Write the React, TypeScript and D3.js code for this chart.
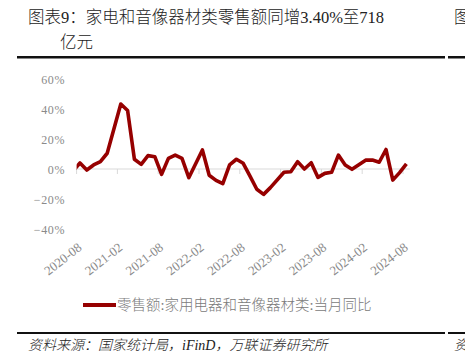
import React from "react";
import { scaleLinear, line } from "d3";

// monthly categories, 2020-07 .. 2024-08 (the first one sits just outside the plot)
const months = [
  "2020-07", "2020-08", "2020-09", "2020-10", "2020-11", "2020-12",
  "2021-01", "2021-02", "2021-03", "2021-04", "2021-05", "2021-06",
  "2021-07", "2021-08", "2021-09", "2021-10", "2021-11", "2021-12",
  "2022-01", "2022-02", "2022-03", "2022-04", "2022-05", "2022-06",
  "2022-07", "2022-08", "2022-09", "2022-10", "2022-11", "2022-12",
  "2023-01", "2023-02", "2023-03", "2023-04", "2023-05", "2023-06",
  "2023-07", "2023-08", "2023-09", "2023-10", "2023-11", "2023-12",
  "2024-01", "2024-02", "2024-03", "2024-04", "2024-05", "2024-06",
  "2024-07", "2024-08",
];

// 零售额:家用电器和音像器材类:当月同比 (%), January has no print
const yoy: (number | null)[] = [
  -1.2, 4.0, -0.7, 2.7, 4.9, 10.5,
  null, 43.3, 39.0, 6.5, 3.1, 8.9,
  8.2, -3.6, 7.1, 9.3, 7.1, -5.8,
  null, 12.7, -4.2, -7.6, -9.8, 2.7,
  6.5, 3.8, -4.7, -13.5, -16.9, -12.4,
  null, -2.2, -1.8, 4.9, 0.0, 4.2,
  -5.6, -2.9, -2.2, 9.3, 2.7, -0.2,
  null, 5.9, 6.0, 4.5, 13.0, -7.4,
  -2.4, 3.4,
];

const xTickLabels = [
  "2020-08", "2021-02", "2021-08", "2022-02", "2022-08",
  "2023-02", "2023-08", "2024-02", "2024-08",
];
const yTicks = [60, 40, 20, 0, -20, -40];

const seriesName = "零售额:家用电器和音像器材类:当月同比";
const titleLine1 = "图表9：家电和音像器材类零售额同增3.40%至718";
const titleLine2 = "亿元";
const source = "资料来源：国家统计局，iFinD，万联证券研究所";

const W = 465;
const H = 352;
const serif = "'Liberation Serif', 'DejaVu Serif', 'Noto Sans CJK SC', serif";
const red = "#960000";

export default function App() {
  const x = scaleLinear().domain([0, months.length - 1]).range([73.2, 406.4]);
  const y = scaleLinear().domain([-40, 60]).range([229, 79]);

  const left = x(0.5);
  const right = x(months.length - 0.5);

  const pts = months
    .map((m, i) => ({ i, v: yoy[i] }))
    .filter((d) => d.v !== null) as { i: number; v: number }[];

  const path = line<{ i: number; v: number }>()
    .x((d) => x(d.i))
    .y((d) => y(d.v))(pts);

  const tickIdx = xTickLabels.map((lab) => months.indexOf(lab) - 0.5);

  return (
    <svg
      width={W}
      height={H}
      style={{ position: "absolute", left: 0, top: 0, background: "#fff" }}
      fontFamily={serif}
    >
      <defs>
        <clipPath id="plot">
          <rect x={left} y={60} width={right - left} height={200} />
        </clipPath>
      </defs>

      {/* title */}
      <text x={28} y={23} fontSize={16.5} fill="#222" fontWeight={300}>
        {titleLine1}
      </text>
      <text x={60} y={48} fontSize={16.5} fill="#222" fontWeight={300}>
        {titleLine2}
      </text>
      <text x={454} y={23} fontSize={16.5} fill="#222" fontWeight={300}>
        图
      </text>
      <rect x={17} y={56} width={428} height={2.5} fill="#111" />
      <rect x={448} y={56} width={17} height={2.5} fill="#111" />

      {/* y axis labels */}
      {yTicks.map((t) => (
        <text
          key={t}
          x={65}
          y={y(t) + 4.5}
          fontSize={12}
          fill="#8a8a8a"
          textAnchor="end"
          letterSpacing={0.6}
        >
          {t < 0 ? `−${-t}%` : `${t}%`}
        </text>
      ))}

      {/* zero line + ticks */}
      <line x1={left} x2={right} y1={y(0)} y2={y(0)} stroke="#d9d9d9" strokeWidth={1.2} />
      {tickIdx.map((ti, k) => (
        <line
          key={k}
          x1={x(ti)}
          x2={x(ti)}
          y1={y(0)}
          y2={y(0) + 5}
          stroke="#d9d9d9"
          strokeWidth={1}
        />
      ))}

      {/* x labels */}
      {tickIdx.map((ti, k) => (
        <text
          key={k}
          transform={`translate(${x(ti) + 6},249) rotate(-38)`}
          fontSize={13}
          fill="#8a8a8a"
          textAnchor="end"
        >
          {xTickLabels[k]}
        </text>
      ))}

      {/* series */}
      <path
        d={path ?? ""}
        fill="none"
        stroke={red}
        strokeWidth={3.6}
        strokeLinejoin="round"
        clipPath="url(#plot)"
      />

      {/* legend */}
      <line x1={83} x2={116} y1={305} y2={305} stroke={red} strokeWidth={4} />
      <text x={117} y={310} fontSize={14.5} fill="#7a7a7a" fontWeight={300}>
        {seriesName}
      </text>

      {/* source */}
      <rect x={17} y={332} width={428} height={2} fill="#111" />
      <rect x={448} y={332} width={17} height={2} fill="#111" />
      <text x={28} y={350} fontSize={14} fontStyle="italic" fill="#222" fontWeight={300}>
        {source}
      </text>
      <text x={454} y={350} fontSize={14} fontStyle="italic" fill="#222" fontWeight={300}>
        资
      </text>
    </svg>
  );
}
